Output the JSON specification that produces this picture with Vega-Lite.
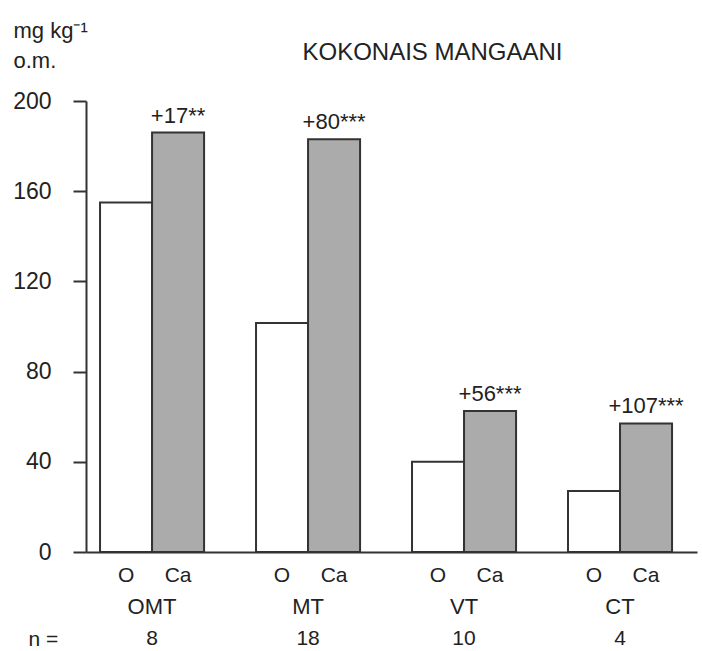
{
  "$schema": "https://vega.github.io/schema/vega-lite/v6.json",
  "autosize": "none",
  "width": 611,
  "height": 451,
  "padding": {"left": 86, "top": 101, "right": 5, "bottom": 99},
  "background": "white",
  "config": {
    "view": {"stroke": null},
    "font": "Liberation Sans",
    "text": {"font": "Liberation Sans", "color": "#222"}
  },
  "title": {
    "text": "KOKONAIS  MANGAANI",
    "anchor": "middle",
    "dx": 41,
    "dy": 46,
    "offset": 0,
    "fontSize": 24,
    "fontWeight": "normal",
    "font": "Liberation Sans",
    "color": "#222"
  },
  "data": {
    "values": [
      {"group": "OMT", "treatment": "O", "value": 155, "n": "8", "change": ""},
      {"group": "OMT", "treatment": "Ca", "value": 186, "n": "8", "change": "+17**"},
      {"group": "MT", "treatment": "O", "value": 101.5, "n": "18", "change": ""},
      {"group": "MT", "treatment": "Ca", "value": 183, "n": "18", "change": "+80***"},
      {"group": "VT", "treatment": "O", "value": 40, "n": "10", "change": ""},
      {"group": "VT", "treatment": "Ca", "value": 62.5, "n": "10", "change": "+56***"},
      {"group": "CT", "treatment": "O", "value": 27, "n": "4", "change": ""},
      {"group": "CT", "treatment": "Ca", "value": 57, "n": "4", "change": "+107***"}
    ]
  },
  "encoding": {
    "x": {
      "field": "group",
      "type": "nominal",
      "sort": ["OMT", "MT", "VT", "CT"],
      "scale": {"paddingInner": 0.333, "paddingOuter": 0.125, "align": 0.36},
      "axis": {
        "title": "n  =",
        "titleX": -58,
        "titleY": 87,
        "titleAlign": "left",
        "titleBaseline": "middle",
        "titleFontSize": 21,
        "titleFontWeight": "normal",
        "titleColor": "#222",
        "titleFont": "Liberation Sans",
        "labelAngle": 0,
        "labelFontSize": 22,
        "labelColor": "#222",
        "labelFont": "Liberation Sans",
        "labelPadding": 54,
        "labelBaseline": "middle",
        "ticks": false,
        "domainColor": "#333",
        "domainWidth": 2
      }
    },
    "y": {
      "type": "quantitative",
      "scale": {"domain": [0, 200], "nice": false},
      "axis": {
        "values": [0, 40, 80, 120, 160, 200],
        "grid": false,
        "tickSize": 13,
        "tickWidth": 2,
        "tickColor": "#333",
        "domainColor": "#333",
        "domainWidth": 2,
        "labelFontSize": 23,
        "labelColor": "#222",
        "labelFont": "Liberation Sans",
        "labelPadding": 22,
        "title": ["mg  kg⁻¹", "o.m."],
        "titleAngle": 0,
        "titleAlign": "left",
        "titleBaseline": "alphabetic",
        "titleX": -73,
        "titleY": -64,
        "titleLineHeight": 30,
        "titleFontSize": 22,
        "titleFontWeight": "normal",
        "titleColor": "#222",
        "titleFont": "Liberation Sans"
      }
    }
  },
  "layer": [
    {
      "mark": {"type": "bar", "stroke": "#333", "strokeWidth": 2},
      "encoding": {
        "xOffset": {
          "field": "treatment",
          "type": "nominal",
          "sort": ["O", "Ca"],
          "scale": {"paddingInner": 0, "paddingOuter": 0}
        },
        "y": {"field": "value", "type": "quantitative"},
        "fill": {
          "field": "treatment",
          "type": "nominal",
          "scale": {"domain": ["O", "Ca"], "range": ["white", "#ababab"]},
          "legend": null
        }
      }
    },
    {
      "transform": [{"filter": "datum.treatment == 'Ca'"}],
      "mark": {"type": "text", "baseline": "alphabetic", "dy": -10, "fontSize": 22},
      "encoding": {
        "xOffset": {"field": "treatment", "type": "nominal", "sort": ["O", "Ca"]},
        "y": {"field": "value", "type": "quantitative"},
        "text": {"field": "change"}
      }
    },
    {
      "mark": {"type": "text", "baseline": "middle", "dy": 24, "fontSize": 21},
      "encoding": {
        "xOffset": {"field": "treatment", "type": "nominal", "sort": ["O", "Ca"]},
        "y": {"datum": 0},
        "text": {"field": "treatment"}
      }
    },
    {
      "transform": [{"filter": "datum.treatment == 'O'"}],
      "mark": {"type": "text", "baseline": "middle", "dy": 87, "fontSize": 21},
      "encoding": {
        "y": {"datum": 0},
        "text": {"field": "n"}
      }
    }
  ]
}
